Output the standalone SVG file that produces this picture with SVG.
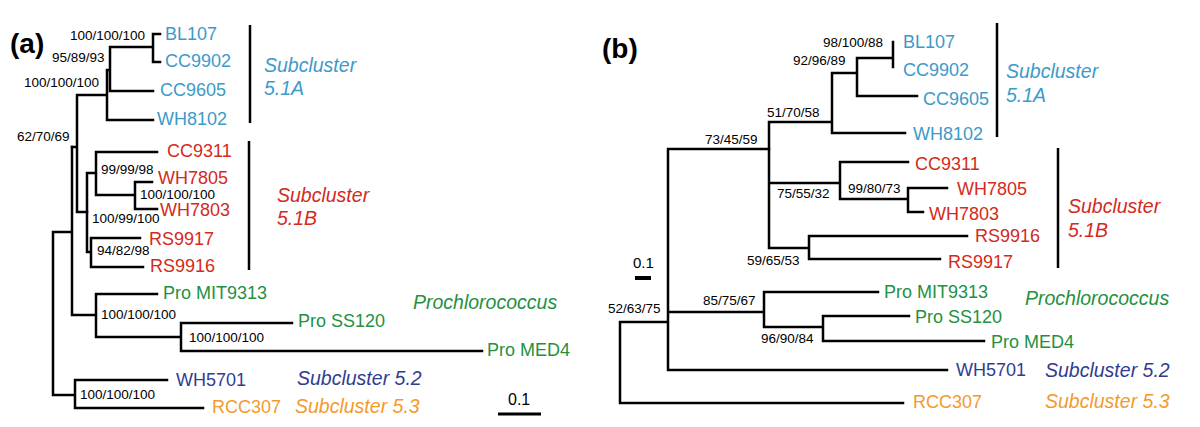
<svg xmlns="http://www.w3.org/2000/svg" width="1200" height="427" viewBox="0 0 1200 427">
<style>
text{font-family:"Liberation Sans",Arial,sans-serif}
.br{fill:none;stroke:#000;stroke-width:2.5;stroke-linecap:square}
.bar{fill:none;stroke:#000;stroke-width:2.5}
.bs{font-size:13.5px;fill:#000}
.tx{font-size:18px}
.cl{font-size:19.5px;font-style:italic}
.pl{font-size:28px;font-weight:bold;fill:#000}
.a{fill:#3d9ac9}.b{fill:#d42a20}.g{fill:#23913f}.n{fill:#2f3d91}.o{fill:#f39a2b}
</style>
<rect width="1200" height="427" fill="#fff"/>
<text class="pl" x="10" y="53">(a)</text>
<text class="pl" x="602" y="58">(b)</text>

<g id="connectors-a">
<path class="br" d="M160,34H153V62H160M153,47H110M110,47V91H153M110,70H107M107,70V120H153M107,95H77M77,95V212H87M77,147H72"/>
<path class="br" d="M87,173V252H91M87,173H96M96,152H157M96,152V195H135M135,182H152M135,182V209H157M91,238H140M91,238V267H143"/>
<path class="br" d="M72,147V315H96M72,232H53M53,232V395H75M96,294H157M96,294V337H181M181,323H292M181,323V351H482M75,380H167M75,380V408H203"/>
</g>
<g id="support-a">
<text class="bs" x="70" y="40">100/100/100</text>
<text class="bs" x="52" y="62">95/89/93</text>
<text class="bs" x="24" y="87">100/100/100</text>
<text class="bs" x="17" y="141">62/70/69</text>
<text class="bs" x="101" y="174">99/99/98</text>
<text class="bs" x="140" y="199">100/100/100</text>
<text class="bs" x="92" y="223">100/99/100</text>
<text class="bs" x="97" y="255">94/82/98</text>
<text class="bs" x="101" y="319">100/100/100</text>
<text class="bs" x="189" y="342">100/100/100</text>
<text class="bs" x="80" y="399">100/100/100</text>
</g>
<g id="taxa-a">
<g id="a-BL107"><text class="tx a" x="165" y="40">BL107</text></g>
<g id="a-CC9902"><text class="tx a" x="165" y="67">CC9902</text></g>
<g id="a-CC9605"><text class="tx a" x="160" y="96">CC9605</text></g>
<g id="a-WH8102"><text class="tx a" x="157" y="125">WH8102</text></g>
<g id="a-CC9311"><text class="tx b" x="167" y="157">CC9311</text></g>
<g id="a-WH7805"><text class="tx b" x="158" y="184">WH7805</text></g>
<g id="a-WH7803"><text class="tx b" x="160" y="216">WH7803</text></g>
<g id="a-RS9917"><text class="tx b" x="149" y="245">RS9917</text></g>
<g id="a-RS9916"><text class="tx b" x="150" y="272">RS9916</text></g>
<g id="a-MIT9313"><text class="tx g" x="163" y="299">Pro MIT9313</text></g>
<g id="a-SS120"><text class="tx g" x="298" y="327">Pro SS120</text></g>
<g id="a-MED4"><text class="tx g" x="487" y="356">Pro MED4</text></g>
<g id="a-WH5701"><text class="tx n" x="176" y="386">WH5701</text></g>
<g id="a-RCC307"><text class="tx o" x="212" y="413">RCC307</text></g>
</g>
<g id="clusters-a">
<path class="bar" d="M250,25V123M249,141V270"/>
<text class="cl a" x="264" y="72">Subcluster</text>
<text class="cl a" x="264" y="95">5.1A</text>
<text class="cl b" x="277" y="202">Subcluster</text>
<text class="cl b" x="277" y="225">5.1B</text>
<text class="cl g" x="413" y="309">Prochlorococcus</text>
<text class="cl n" x="297" y="385">Subcluster 5.2</text>
<text class="cl o" x="295" y="413">Subcluster 5.3</text>
</g>
<g id="scale-a">
<text x="508" y="405" font-size="16">0.1</text>
<path d="M498,414H541" stroke="#000" stroke-width="3"/>
</g>

<g id="connectors-b">
<path class="br" d="M893,42V67M857,58H893M857,58V96H917M832,73H857M832,73V133H905M769,122H832M769,122V248H809M769,183H840M840,162V199H908M840,162H908M908,188V212M908,188H947M908,212H923M809,236V259M809,236H967M809,259H940"/>
<path class="br" d="M668,149H769M668,149V370H947M620,322H668M620,322V403H903M668,312H764M764,292V327H823M764,292H878M823,316V341M823,316H909M823,341H984"/>
</g>
<g id="support-b">
<text class="bs" x="823" y="47">98/100/88</text>
<text class="bs" x="793" y="65">92/96/89</text>
<text class="bs" x="767" y="117">51/70/58</text>
<text class="bs" x="705" y="144">73/45/59</text>
<text class="bs" x="777" y="198">75/55/32</text>
<text class="bs" x="848" y="193">99/80/73</text>
<text class="bs" x="747" y="265">59/65/53</text>
<text class="bs" x="703" y="305">85/75/67</text>
<text class="bs" x="761" y="343">96/90/84</text>
<text class="bs" x="608" y="313">52/63/75</text>
</g>
<g id="taxa-b">
<g id="b-BL107"><text class="tx a" x="903" y="48">BL107</text></g>
<g id="b-CC9902"><text class="tx a" x="903" y="76">CC9902</text></g>
<g id="b-CC9605"><text class="tx a" x="923" y="105">CC9605</text></g>
<g id="b-WH8102"><text class="tx a" x="913" y="140">WH8102</text></g>
<g id="b-CC9311"><text class="tx b" x="915" y="170">CC9311</text></g>
<g id="b-WH7805"><text class="tx b" x="957" y="195">WH7805</text></g>
<g id="b-WH7803"><text class="tx b" x="929" y="220">WH7803</text></g>
<g id="b-RS9916"><text class="tx b" x="975" y="242">RS9916</text></g>
<g id="b-RS9917"><text class="tx b" x="948" y="268">RS9917</text></g>
<g id="b-MIT9313"><text class="tx g" x="884" y="298">Pro MIT9313</text></g>
<g id="b-SS120"><text class="tx g" x="915" y="323">Pro SS120</text></g>
<g id="b-MED4"><text class="tx g" x="991" y="348">Pro MED4</text></g>
<g id="b-WH5701"><text class="tx n" x="956" y="376">WH5701</text></g>
<g id="b-RCC307"><text class="tx o" x="913" y="408">RCC307</text></g>
</g>
<g id="clusters-b">
<path class="bar" d="M997,23V137M1058,148V268"/>
<text class="cl a" x="1006" y="78">Subcluster</text>
<text class="cl a" x="1006" y="102">5.1A</text>
<text class="cl b" x="1068" y="213">Subcluster</text>
<text class="cl b" x="1068" y="237">5.1B</text>
<text class="cl g" x="1025" y="305">Prochlorococcus</text>
<text class="cl n" x="1045" y="377">Subcluster 5.2</text>
<text class="cl o" x="1045" y="408">Subcluster 5.3</text>
</g>
<g id="scale-b">
<text x="633" y="268" font-size="15">0.1</text>
<path d="M635,278H651" stroke="#000" stroke-width="4"/>
</g>
</svg>
